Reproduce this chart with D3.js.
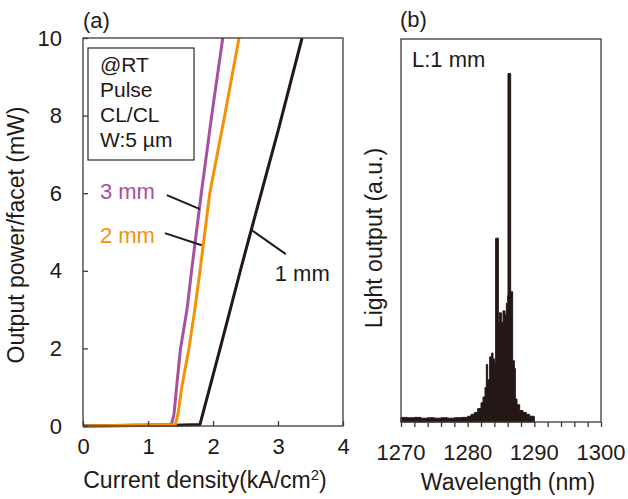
<!DOCTYPE html>
<html>
<head>
<meta charset="utf-8">
<script src="https://cdn.jsdelivr.net/npm/d3@7"></script>
<style>
  html, body { margin: 0; padding: 0; background: #fff; }
  svg { display: block; font-family: "Liberation Sans", Arial, sans-serif; }
  text { fill: #231815; }
</style>
</head>
<body>
<div id="chart"></div>
<script>
// --- (a) L-I curves: current density (kA/cm2) vs output power/facet (mW) ---
const j1mm = [0, 1.40, 1.80, 2.11, 2.42, 2.58, 3.00, 3.37];
const p1mm = [0, 0.02, 0.04, 2, 4, 5, 7.6, 10];
const j3mm = [0, 1.36, 1.40, 1.44, 1.50, 1.60, 1.67, 1.82, 1.98, 2.15];
const p3mm = [0, 0.04, 0.3, 1, 2, 3, 4, 6, 8, 10];
const j2mm = [0, 1.42, 1.46, 1.52, 1.63, 1.72, 1.80, 1.95, 2.18, 2.40];
const p2mm = [0, 0.03, 0.3, 1, 2, 3, 4, 6, 8, 10];
const xTicksA = [0, 1, 2, 3, 4];
const yTicksA = [0, 2, 4, 6, 8, 10];
const insetLines = ["@RT", "Pulse", "CL/CL", "W:5 \u00b5m"];

// --- (b) spectrum: wavelength (nm) vs light output (a.u.), step-after samples ---
const wl = [1270, 1271, 1272, 1273, 1274, 1275, 1276, 1277, 1278, 1279, 1280, 1280.5, 1281, 1281.5,
  1282, 1282.3, 1282.6, 1282.8, 1283.0, 1283.3, 1283.6, 1283.8, 1284.0, 1284.2, 1284.6, 1284.75,
  1285.05, 1285.3, 1285.6, 1285.8, 1286.0, 1286.05, 1286.45, 1286.75, 1287.0, 1287.15, 1287.4,
  1287.8, 1288.3, 1288.8, 1289.3, 1290];
const intensity = [0.012, 0.011, 0.012, 0.010, 0.011, 0.010, 0.011, 0.010, 0.011, 0.012, 0.015, 0.020,
  0.025, 0.035, 0.050, 0.065, 0.090, 0.150, 0.110, 0.170, 0.180, 0.165, 0.155, 0.480, 0.260, 0.285,
  0.260, 0.290, 0.280, 0.310, 0.330, 0.910, 0.340, 0.160, 0.140, 0.060, 0.045,
  0.030, 0.025, 0.020, 0.015, 0.012];
const xTicksB = [1270, 1280, 1290, 1300];

const INK = "#231815", FRAME = "#3e3a39";
const W = 628, H = 499;
const svg = d3.select("#chart").append("svg").attr("width", W).attr("height", H);

// ===== panel (a) =====
const xa = d3.scaleLinear().domain([0, 4]).range([83, 343]);
const ya = d3.scaleLinear().domain([0, 10]).range([426, 38]);
const ga = svg.append("g");

const lineA = d3.line().x(d => xa(d[0])).y(d => ya(d[1]));
const series = [
  { j: j1mm, p: p1mm, color: INK },
  { j: j3mm, p: p3mm, color: "#a6509f" },
  { j: j2mm, p: p2mm, color: "#f39208" }
];
series.forEach(s => {
  ga.append("path").datum(s.j.map((v, i) => [v, s.p[i]]))
    .attr("d", lineA).attr("fill", "none").attr("stroke", s.color)
    .attr("stroke-width", 3).attr("stroke-linejoin", "round");
});

// frame + inward ticks
ga.append("rect").attr("x", xa(0)).attr("y", ya(10)).attr("width", xa(4) - xa(0)).attr("height", ya(0) - ya(10))
  .attr("fill", "none").attr("stroke", FRAME).attr("stroke-width", 1.3);
ga.append("g").attr("transform", `translate(0,${ya(0)})`)
  .call(d3.axisBottom(xa).tickValues(xTicksA).tickFormat(d3.format("d")).tickSizeInner(-5).tickSizeOuter(0).tickPadding(12))
  .call(g => g.select(".domain").remove())
  .call(g => g.selectAll("line").attr("stroke", FRAME).attr("stroke-width", 1.3))
  .call(g => g.selectAll("text").attr("font-size", 22).attr("fill", INK).attr("font-family", null));
ga.append("g").attr("transform", `translate(${xa(0)},0)`)
  .call(d3.axisLeft(ya).tickValues(yTicksA).tickSizeInner(-5).tickSizeOuter(0).tickPadding(21))
  .call(g => g.select(".domain").remove())
  .call(g => g.selectAll("line").attr("stroke", FRAME).attr("stroke-width", 1.3))
  .call(g => g.selectAll("text").attr("font-size", 22).attr("fill", INK).attr("font-family", null));

// inset condition box
ga.append("rect").attr("x", 88).attr("y", 48).attr("width", 106).attr("height", 112)
  .attr("fill", "#fff").attr("stroke", FRAME).attr("stroke-width", 1.3);
ga.selectAll("text.inset").data(insetLines).join("text").attr("class", "inset")
  .attr("x", 100).attr("y", (d, i) => 72 + i * 25).attr("font-size", 21).text(d => d);

// labels with leader lines (data units)
const labelsA = [
  { t: "3 mm", color: "#a6509f", at: [0.26, 5.85], from: [1.29, 5.95], to: [1.80, 5.59] },
  { t: "2 mm", color: "#f39208", at: [0.26, 4.72], from: [1.26, 4.97], to: [1.826, 4.66] },
  { t: "1 mm", color: INK, at: [2.95, 3.74], from: [2.595, 5.05], to: [3.12, 4.43] }
];
labelsA.forEach(l => {
  ga.append("line").attr("x1", xa(l.from[0])).attr("y1", ya(l.from[1]))
    .attr("x2", xa(l.to[0])).attr("y2", ya(l.to[1])).attr("stroke", INK).attr("stroke-width", 2);
  ga.append("text").attr("x", xa(l.at[0])).attr("y", ya(l.at[1])).attr("font-size", 22)
    .style("fill", l.color).text(l.t);
});

ga.append("text").attr("x", 83).attr("y", 28).attr("font-size", 22).text("(a)");
const xt = ga.append("text").attr("x", 205).attr("y", 488).attr("text-anchor", "middle").attr("font-size", 23);
xt.append("tspan").text("Current density(kA/cm");
xt.append("tspan").attr("dy", -8).attr("font-size", 15).text("2");
xt.append("tspan").attr("dy", 8).text(")");
ga.append("text").attr("transform", "translate(24,235) rotate(-90)").attr("text-anchor", "middle")
  .attr("font-size", 23).text("Output power/facet (mW)");

// ===== panel (b) =====
const xb = d3.scaleLinear().domain([1270, 1300]).range([401, 601]);
const yb = d3.scaleLinear().domain([0, 1]).range([422, 39]);
const gb = svg.append("g");

gb.append("path").datum(wl.map((v, i) => [v, intensity[i]]))
  .attr("d", d3.area().curve(d3.curveStepAfter).x(d => xb(d[0])).y0(yb(0)).y1(d => yb(d[1])))
  .attr("fill", INK).attr("stroke", INK).attr("stroke-width", 1).attr("stroke-linejoin", "round");

gb.append("rect").attr("x", xb(1270)).attr("y", yb(1)).attr("width", xb(1300) - xb(1270)).attr("height", yb(0) - yb(1))
  .attr("fill", "none").attr("stroke", FRAME).attr("stroke-width", 1.3);
gb.append("g").attr("transform", `translate(0,${yb(0)})`)
  .call(d3.axisBottom(xb).ticks(15).tickSizeInner(5).tickSizeOuter(0).tickFormat(() => ""))
  .call(g => g.select(".domain").remove())
  .call(g => g.selectAll("line").attr("stroke", FRAME).attr("stroke-width", 1.3));
gb.selectAll("text.xtb").data(xTicksB).join("text").attr("class", "xtb")
  .attr("x", d => xb(d)).attr("y", 460).attr("text-anchor", "middle").attr("font-size", 22).text(d => d);

gb.append("text").attr("x", 400).attr("y", 27).attr("font-size", 22).text("(b)");
gb.append("text").attr("x", 412).attr("y", 67).attr("font-size", 22).text("L:1 mm");
gb.append("text").attr("x", 508).attr("y", 490).attr("text-anchor", "middle").attr("font-size", 23).text("Wavelength (nm)");
gb.append("text").attr("transform", "translate(382,238) rotate(-90)").attr("text-anchor", "middle")
  .attr("font-size", 23).text("Light output (a.u.)");
</script>
</body>
</html>
